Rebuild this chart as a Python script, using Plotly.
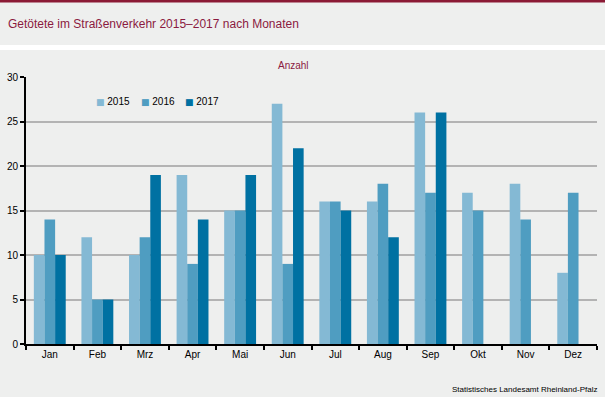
import plotly.graph_objects as go

months = ["Jan", "Feb", "Mrz", "Apr", "Mai", "Jun", "Jul", "Aug", "Sep", "Okt", "Nov", "Dez"]
v2015 = [10, 12, 10, 19, 15, 27, 16, 16, 26, 17, 18, 8]
v2016 = [14, 5, 12, 9, 15, 9, 16, 18, 17, 15, 14, 17]
v2017 = [10, 5, 19, 14, 19, 22, 15, 12, 26, None, None, None]
years = ["2015", "2016", "2017"]
colors = ["#84B9D4", "#4F9DC1", "#0071A2"]

W, H = 605, 397
L, R, T, B = 26, 8, 77, 53
pw, ph = W - L - R, H - T - B

def py(pix):
    return (H - B - pix) / ph

def px(pix):
    return (pix - L) / pw

fig = go.Figure()
for name, vals, c in zip(years, [v2015, v2016, v2017], colors):
    fig.add_trace(go.Bar(x=months, y=vals, name=name, showlegend=False,
                         marker=dict(color=c, line=dict(width=0))))

bg = "#EEEFEE"
shapes = [
    dict(type="rect", xref="paper", yref="paper", x0=px(0), x1=px(W), y0=py(0), y1=py(2.5),
         fillcolor="#8B1A35", line=dict(width=0), layer="below"),
    dict(type="rect", xref="paper", yref="paper", x0=px(0), x1=px(W), y0=py(45), y1=py(50),
         fillcolor="#FFFFFF", line=dict(width=0), layer="below"),
]

annotations = [
    dict(text="Getötete im Straßenverkehr 2015–2017 nach Monaten", xref="paper", yref="paper",
         x=px(6), y=py(24), xanchor="left", yanchor="middle", showarrow=False,
         font=dict(size=12, color="#8B1A3F")),
    dict(text="Anzahl", xref="paper", yref="paper", x=px(293), y=py(66),
         xanchor="center", yanchor="middle", showarrow=False,
         font=dict(size=10, color="#8B1A3F")),
    dict(text="Statistisches Landesamt Rheinland-Pfalz", xref="paper", yref="paper",
         x=px(599), y=py(389), xanchor="right", yanchor="middle", showarrow=False,
         font=dict(size=8, color="#000000")),
]
# legend entries (small coloured squares + year)
for i, (name, c) in enumerate(zip(years, colors)):
    annotations.append(dict(
        text=f'<span style="color:{c};font-family:DejaVu Sans;font-size:9px">■</span> {name}',
        xref="paper", yref="paper", x=px(94 + 44.5 * i), y=py(101),
        xanchor="left", yanchor="middle", showarrow=False,
        font=dict(size=10, color="#000000")))

fig.update_layout(
    width=W, height=H,
    margin=dict(l=L, r=R, t=T, b=B),
    paper_bgcolor=bg, plot_bgcolor=bg,
    font=dict(family="Liberation Sans, Arial, sans-serif", size=10, color="#000000"),
    barmode="group", bargap=0.33, bargroupgap=0,
    shapes=shapes,
    showlegend=False,
    annotations=annotations,
    xaxis=dict(showline=True, linecolor="#000000", linewidth=2, ticks="outside",
               tickson="boundaries", ticklen=4, tickwidth=2, tickcolor="#000000",
               showgrid=False, tickfont=dict(size=10)),
    yaxis=dict(range=[0, 30], dtick=5, showline=True, linecolor="#000000", linewidth=2,
               ticks="outside", ticklen=4, tickwidth=2, tickcolor="#000000",
               showgrid=True, gridcolor="#B3B3B3", gridwidth=1.5, zeroline=False,
               tickfont=dict(size=10)),
)

fig.write_html("out.html", config={"displayModeBar": False},
               post_script="document.body.style.margin='0';document.body.style.overflow='hidden';")
